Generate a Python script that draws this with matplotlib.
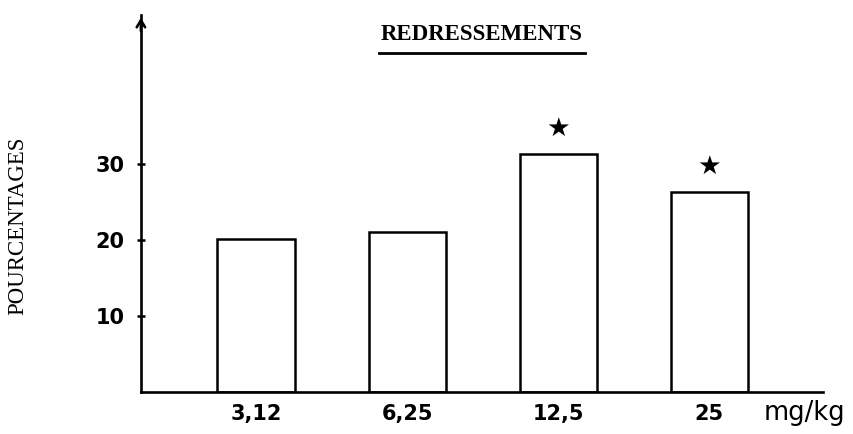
import numpy as np
import matplotlib
matplotlib.use("Agg")
import matplotlib.pyplot as plt
from matplotlib.lines import Line2D

doses = ['3,12', '6,25', '12,5', '25']
pourcentages = [20.1, 21.0, 31.3, 26.3]
signif = [False, False, True, True]
yticks = [10, 20, 30]

fig = plt.figure(figsize=(8.54, 4.34), dpi=100)
ax = fig.add_axes([0.165, 0.0968, 0.799, 0.8687])

x = np.arange(len(doses))
ax.bar(x, pourcentages, width=0.51, facecolor='white', edgecolor='black', linewidth=1.8)

# étoiles de significativité
for xi, h, s in zip(x, pourcentages, signif):
    if s:
        ax.annotate('★', xy=(xi, h), xytext=(0, 18), textcoords='offset points',
                    ha='center', va='center', fontsize=19, family='DejaVu Sans')

ax.set_xlim(-0.762, 3.755)
ax.set_ylim(0, 49.6)

for side in ['top', 'right']:
    ax.spines[side].set_visible(False)
ax.spines['left'].set_linewidth(1.9)
ax.spines['bottom'].set_linewidth(1.9)

# flèche en haut de l'axe y
ax.annotate('', xy=(0, 1.0), xytext=(0, 0.95), xycoords='axes fraction',
            arrowprops=dict(arrowstyle='->,head_length=0.5,head_width=0.3', lw=1.9, color='black'))

ax.set_yticks(yticks)
ax.set_yticklabels([str(v) for v in yticks], fontsize=15, fontweight='bold', family='DejaVu Sans')
ax.tick_params(axis='y', direction='inout', length=6, width=1.8, pad=9)

ax.set_xticks(x)
ax.set_xticklabels(doses, fontsize=15, fontweight='bold', family='DejaVu Sans')
ax.tick_params(axis='x', length=0, pad=9)

ax.annotate('mg/kg', xy=(3.36, 0), xycoords=ax.get_xaxis_transform(),
            xytext=(0, -21), textcoords='offset pixels', ha='left', va='center',
            fontsize=18.5, family='DejaVu Sans')

fig.text(18 / 854, 1 - 226 / 434, 'POURCENTAGES', rotation=90, ha='center', va='center',
         fontsize=16.5, family='Liberation Serif')

t = fig.text(482 / 854, 1 - 35 / 434, 'REDRESSEMENTS', ha='center', va='center',
             fontsize=16.5, fontweight='bold', family='Liberation Serif')
fig.canvas.draw()
bb = t.get_window_extent()
uy = 1 - 53 / 434
fig.add_artist(Line2D([bb.x0 / 854 - 0.002, bb.x1 / 854 + 0.002], [uy, uy],
                      transform=fig.transFigure, color='black', lw=2))

fig.savefig('out.png', dpi=100)
